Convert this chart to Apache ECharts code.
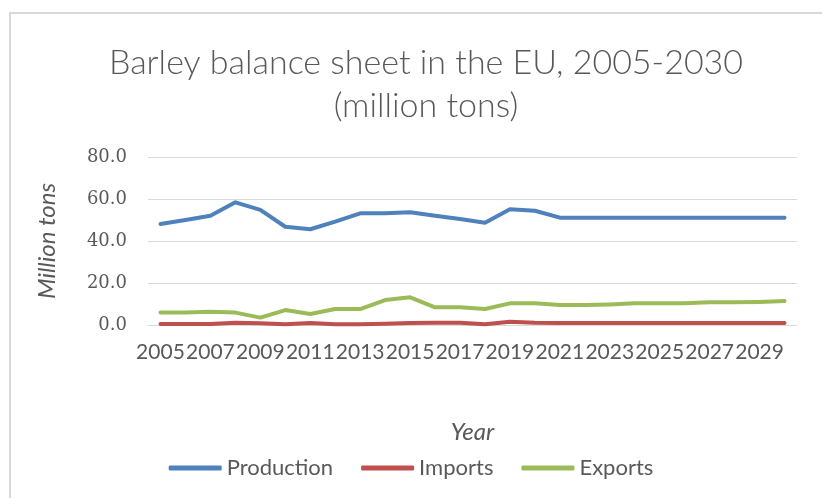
<!DOCTYPE html>
<html>
<head>
<meta charset="utf-8">
<script src="https://cdn.jsdelivr.net/npm/echarts@6/dist/echarts.min.js"></script>
<style>
  html, body { margin: 0; padding: 0; background: #fff; }
  #chart { width: 822px; height: 498px; }
</style>
</head>
<body>
<div id="chart"></div>
<script>
// EU barley balance sheet, million tons
const years = ['2005','2006','2007','2008','2009','2010','2011','2012','2013','2014','2015','2016','2017',
               '2018','2019','2020','2021','2022','2023','2024','2025','2026','2027','2028','2029','2030'];
const production = [48.1, 50.0, 52.0, 58.4, 54.8, 46.8, 45.6, 49.2, 53.2, 53.2, 53.7, 52.0, 50.5,
                    48.7, 55.1, 54.4, 51.1, 51.1, 51.1, 51.1, 51.1, 51.1, 51.1, 51.1, 51.1, 51.1];
const imports    = [0.5, 0.5, 0.5, 1.1, 0.8, 0.4, 1.0, 0.4, 0.4, 0.6, 1.0, 1.1, 1.1,
                    0.4, 1.6, 1.1, 1.0, 1.0, 1.0, 1.0, 1.0, 1.0, 1.0, 1.0, 1.0, 1.0];
const exportsData = [5.9, 5.9, 6.3, 5.9, 3.5, 7.1, 5.2, 7.6, 7.6, 11.9, 13.2, 8.4, 8.4,
                    7.6, 10.3, 10.3, 9.5, 9.5, 9.8, 10.3, 10.3, 10.3, 10.8, 10.8, 11.0, 11.4];
const yTicks = { min: 0, max: 80, interval: 20 };

const textColor = '#595959';
const sans = 'Lato, "Open Sans", sans-serif';

const chart = echarts.init(document.getElementById('chart'), null, { renderer: 'canvas' });

function line(name, data, color) {
  return {
    name: name,
    type: 'line',
    data: data,
    symbol: 'none',
    lineStyle: { color: color, width: 4, cap: 'round', join: 'round' },
    itemStyle: { color: color },
    emphasis: { disabled: true }
  };
}

chart.setOption({
  animation: false,
  backgroundColor: '#fff',
  graphic: [{
    type: 'rect',
    shape: { x: 10, y: 13, width: 900, height: 600 },
    style: { fill: 'none', stroke: '#d9d9d9', lineWidth: 2 },
    silent: true
  }],
  title: {
    text: 'Barley balance sheet in the EU, 2005-2030\n(million tons)',
    left: 421,
    top: 37,
    textAlign: 'center',
    textStyle: {
      fontFamily: sans,
      fontWeight: 300,
      fontSize: 34,
      color: textColor,
      lineHeight: 43
    }
  },
  legend: {
    top: 452,
    left: 'center',
    icon: 'roundRect',
    itemWidth: 53,
    itemHeight: 5,
    itemGap: 28,
    textStyle: { fontFamily: sans, fontSize: 22, color: textColor },
    data: ['Production', 'Imports', 'Exports']
  },
  grid: { left: 148, right: 25, top: 157, bottom: 173, containLabel: false },
  xAxis: {
    type: 'category',
    data: years,
    boundaryGap: true,
    name: 'Year',
    nameLocation: 'middle',
    nameGap: 95,
    nameTextStyle: { fontFamily: sans, fontStyle: 'italic', fontSize: 24, color: textColor },
    axisLine: { lineStyle: { color: '#d9d9d9', width: 1 } },
    axisTick: { show: false },
    axisLabel: {
      interval: 1,
      showMinLabel: true,
      margin: 17,
      fontFamily: sans,
      fontSize: 21,
      color: textColor
    },
    splitLine: { show: false }
  },
  yAxis: {
    type: 'value',
    min: yTicks.min,
    max: yTicks.max,
    interval: yTicks.interval,
    name: 'Million tons',
    nameLocation: 'middle',
    nameGap: 89,
    nameRotate: 90,
    nameTextStyle: { fontFamily: sans, fontStyle: 'italic', fontSize: 24, color: textColor },
    axisLine: { show: false },
    axisTick: { show: false },
    axisLabel: {
      margin: 21,
      fontFamily: '"DejaVu Serif", serif',
      fontSize: 18,
      color: textColor,
      formatter: v => v.toFixed(1)
    },
    splitLine: { lineStyle: { color: '#d9d9d9', width: 1 } }
  },
  series: [
    line('Production', production, '#4F81BD'),
    line('Imports', imports, '#C0504D'),
    line('Exports', exportsData, '#9BBB59')
  ]
});
</script>
</body>
</html>
